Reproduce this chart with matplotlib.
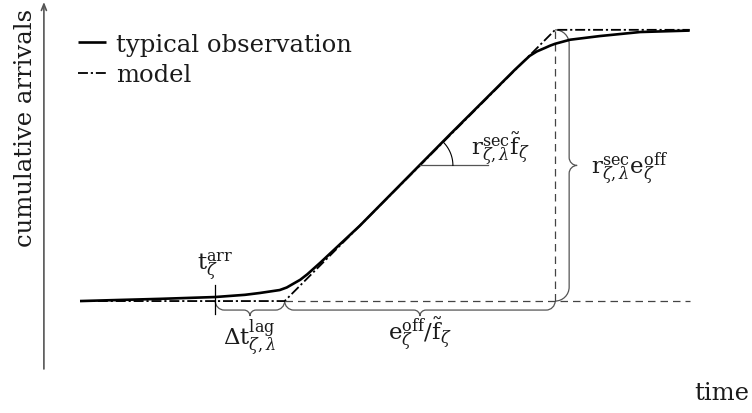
import numpy as np
import matplotlib
matplotlib.use("Agg")
import matplotlib.pyplot as plt
from matplotlib.path import Path
from matplotlib.patches import PathPatch

plt.rcParams["font.family"] = ["DejaVu Serif"]
plt.rcParams["mathtext.fontset"] = "dejavuserif"

# observed cumulative arrivals (time, count), arbitrary units
obs_t = [0.51, 1.07, 1.64, 2.42, 2.63, 2.84, 3.05, 3.19, 3.33, 3.43, 3.52, 3.62,
         3.72, 3.90, 4.46, 5.73, 6.65, 6.76, 6.86, 6.96, 7.08, 7.15, 7.22, 7.43,
         7.64, 7.85, 8.42, 9.12]
obs_y = [1.85, 1.88, 1.91, 1.96, 1.99, 2.02, 2.07, 2.11, 2.15, 2.22, 2.32, 2.43,
         2.58, 2.89, 3.90, 6.38, 8.15, 8.35, 8.53, 8.65, 8.75, 8.81, 8.86, 8.97,
         9.02, 9.07, 9.18, 9.22]

# piecewise-linear model: flat, constant rate, flat
model_t = [0.51, 3.40, 7.22, 9.12]
model_y = [1.85, 1.85, 9.24, 9.24]

t_arr = 2.42           # arrival time
t_ang = 5.31           # where the slope angle is marked
ang_len = 0.96         # length of the horizontal reference line

x_max, y_max = 10.0, 10.0

fig = plt.figure(figsize=(7.52, 4.14), dpi=100)
ax = fig.add_axes([0, 0, 1, 1])
ax.set_xlim(-0.62, 10.0)
ax.set_ylim(-1.2, 10.08)
ax.axis("off")

axis_col = "#555555"
guide_col = "#444444"

# axes with arrow heads
arrow = dict(arrowstyle="->,head_length=0.45,head_width=0.18", lw=1.2, color=axis_col,
             shrinkA=0, shrinkB=0)
ax.annotate("", xy=(0, y_max), xytext=(0, 0), arrowprops=arrow)
ax.annotate("", xy=(x_max + 0.1, 0), xytext=(0, 0), arrowprops=arrow)

y0, y1 = model_y[0], model_y[-1]
t_lag, t_top = model_t[1], model_t[2]
rate = (y1 - y0) / (t_top - t_lag)

# dashed guides
ax.plot([t_lag, model_t[-1]], [y0, y0], color=guide_col, lw=0.9, dashes=(6, 4))
ax.plot([t_top, t_top], [y0, y1], color=guide_col, lw=0.9, dashes=(6, 4))

# curves
ax.plot(obs_t, obs_y, color="black", lw=1.9, solid_capstyle="butt",
        solid_joinstyle="round", label="typical observation")
ax.plot(model_t, model_y, color="black", lw=1.3, dashes=(5.5, 1.6, 1.2, 1.6),
        label="model")

fs = 17.5
mfs = 16.5
tc = "#1a1a1a"

leg = ax.legend(loc="upper left", bbox_to_anchor=(0.104, 0.918), frameon=False,
                fontsize=fs, handlelength=1.15, handletextpad=0.42,
                labelspacing=0.3, borderpad=0, borderaxespad=0)
for txt in leg.get_texts():
    txt.set_color(tc)

fig.canvas.draw()
to_px = ax.transData.transform
to_data = ax.transData.inverted().transform


def brace(p0, p1, normal, d1, d2):
    """Curly brace between two data points, bulging d1/d2 pixels along normal."""
    a, b = to_px(p0), to_px(p1)
    u = (b - a) / np.linalg.norm(b - a)
    v = np.asarray(normal, float)
    L = np.linalg.norm(b - a)
    m = L / 2
    k = 0.552
    r, r2 = d1, d2 - d1
    pts = [(0, 0),
           (0, k * d1), (r - k * r, d1), (r, d1),
           (m - r2, d1),
           (m - r2 + k * r2, d1), (m, d1 + (1 - k) * r2), (m, d2),
           (m, d1 + (1 - k) * r2), (m + r2 - k * r2, d1), (m + r2, d1),
           (L - r, d1),
           (L - r + k * r, d1), (L, k * d1), (L, 0)]
    codes = [Path.MOVETO] + [Path.CURVE4] * 3 + [Path.LINETO] + [Path.CURVE4] * 6 \
        + [Path.LINETO] + [Path.CURVE4] * 3
    verts = np.array([a + s * u + t * v for s, t in pts])
    path = Path(to_data(verts), codes)
    ax.add_patch(PathPatch(path, fill=False, lw=0.9, color=axis_col))


brace((t_arr, y0), (t_lag, y0), (0, -1), 9, 15)
brace((t_lag, y0), (t_top, y0), (0, -1), 9, 15)
brace((t_top, y0), (t_top, y1), (1, 0), 14, 22)

# arrival-time tick
px_arr = to_px((t_arr, y0))
tick = to_data(np.array([px_arr + (0, 16), px_arr - (0, 13)]))
ax.plot(tick[:, 0], tick[:, 1], color="black", lw=0.9)

# slope angle marker
y_ang = y0 + rate * (t_ang - t_lag)
ax.plot([t_ang, t_ang + ang_len], [y_ang, y_ang], color=axis_col, lw=0.9)
c = to_px((t_ang, y_ang))
d = to_px((t_ang + 1, y_ang + rate)) - c
theta = np.linspace(0, np.arctan2(d[1], d[0]), 40)
arc = to_data(np.column_stack([c[0] + 33 * np.cos(theta), c[1] + 33 * np.sin(theta)]))
ax.plot(arc[:, 0], arc[:, 1], color="black", lw=0.8)

# labels
lab_arr = to_data(px_arr + (0, 19))
ax.text(t_arr, lab_arr[1], r"$\mathrm{t}_{\zeta}^{\mathrm{arr}}$", fontsize=mfs,
        ha="center", va="bottom", color=tc)

lag_pt = to_data(to_px(((t_arr + t_lag) / 2, y0)) - (0, 15))
ax.text(lag_pt[0], lag_pt[1], r"$\Delta\mathrm{t}_{\zeta,\lambda}^{\mathrm{lag}}$",
        fontsize=mfs, ha="center", va="top", color=tc)

off_pt = to_data(to_px(((t_lag + t_top) / 2, y0)) - (0, 13))
ax.text(off_pt[0], off_pt[1], r"$\mathrm{e}_{\zeta}^{\mathrm{off}}/\tilde{\mathrm{f}}_{\zeta}$",
        fontsize=mfs, ha="center", va="top", color=tc)

rf_pt = to_data(c + (51, 17))
ax.text(rf_pt[0], rf_pt[1], r"$\mathrm{r}_{\zeta,\lambda}^{\mathrm{sec}}\tilde{\mathrm{f}}_{\zeta}$",
        fontsize=mfs, ha="left", va="center", color=tc)

re_pt = to_data(to_px((t_top, (y0 + y1) / 2)) + (36, -3))
ax.text(re_pt[0], re_pt[1], r"$\mathrm{r}_{\zeta,\lambda}^{\mathrm{sec}}\mathrm{e}_{\zeta}^{\mathrm{off}}$",
        fontsize=mfs, ha="left", va="center", color=tc)

ax.text(0.034, 0.69, "cumulative arrivals", transform=ax.transAxes, rotation=90,
        fontsize=fs, ha="center", va="center", color=tc)
ax.text(0.997, 0.05, "time", transform=ax.transAxes, fontsize=fs,
        ha="right", va="center", color=tc)

fig.savefig("out.png", dpi=100)
